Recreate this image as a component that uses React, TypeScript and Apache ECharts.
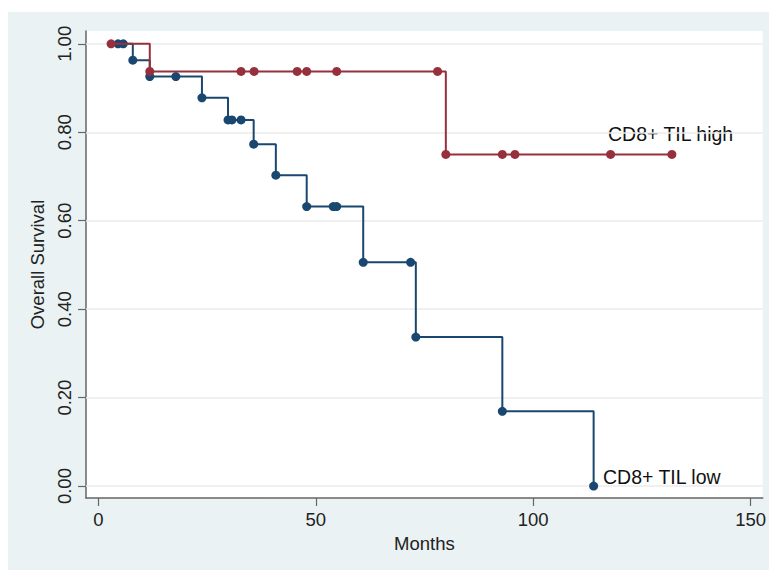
import React, { useEffect, useRef } from "react";
import * as echarts from "echarts";

// Kaplan-Meier step curves: [months, survival]
const lowCurve: [number, number][] = [
  [2.9, 1.0], [7.9, 0.963], [11.8, 0.926], [23.8, 0.878], [29.8, 0.828],
  [35.7, 0.773], [40.8, 0.703], [47.9, 0.632], [60.9, 0.506], [73.0, 0.337],
  [92.9, 0.169], [113.9, 0.0],
];
const highCurve: [number, number][] = [
  [2.9, 1.0], [11.8, 0.9375], [79.9, 0.75], [131.9, 0.75],
];
// observation markers (events and censored) : [months, survival]
const lowMarks: [number, number][] = [
  [4.5, 1.0], [5.7, 1.0], [7.9, 0.963], [11.8, 0.926], [17.8, 0.926],
  [23.8, 0.878], [29.8, 0.828], [30.7, 0.828], [32.8, 0.828], [35.7, 0.773],
  [40.8, 0.703], [47.9, 0.632], [54.0, 0.632], [54.8, 0.632], [60.9, 0.506],
  [71.8, 0.506], [73.0, 0.337], [92.9, 0.169], [113.9, 0.0],
];
const highMarks: [number, number][] = [
  [2.9, 1.0], [11.8, 0.9375], [32.8, 0.9375], [35.8, 0.9375], [45.7, 0.9375],
  [47.9, 0.9375], [54.8, 0.9375], [78.0, 0.9375], [79.9, 0.75], [92.9, 0.75],
  [95.8, 0.75], [117.8, 0.75], [131.9, 0.75],
];
const xTicks = [0, 50, 100, 150];
const yTicks = [0, 0.2, 0.4, 0.6, 0.8, 1.0];
const seriesNames = ["CD8+ TIL low", "CD8+ TIL high"];

const BLUE = "#1a476f";
const RED = "#95303c";
const FONT = "'Liberation Sans', Arial, sans-serif";

export default function App() {
  const ref = useRef<HTMLDivElement>(null);
  useEffect(() => {
    if (!ref.current) return;
    const chart = echarts.init(ref.current, undefined, { renderer: "svg" });
    chart.setOption({
      animation: false,
      backgroundColor: "#eaf2f3",
      textStyle: { fontFamily: FONT },
      grid: {
        left: 78, top: 19, right: 6, bottom: 72,
        show: true, backgroundColor: "#ffffff", borderWidth: 0,
      },
      xAxis: {
        type: "value",
        min: -2.87, max: 152.8,
        name: "Months",
        nameLocation: "middle",
        nameGap: 32,
        nameTextStyle: { fontSize: 18.5, color: "#222", fontFamily: FONT },
        axisLine: { show: true, onZero: false, lineStyle: { color: "#666", width: 1.5 } },
        axisTick: { show: true, length: 8, customValues: xTicks, lineStyle: { color: "#666", width: 1.2 } },
        axisLabel: { customValues: xTicks, margin: 12, fontSize: 18.5, color: "#222", fontFamily: FONT },
        splitLine: { show: false },
      },
      yAxis: {
        type: "value",
        min: -0.027, max: 1.029,
        name: "Overall Survival",
        nameLocation: "middle",
        nameGap: 34,
        nameTextStyle: { fontSize: 18.5, color: "#222", fontFamily: FONT },
        axisLine: { show: true, onZero: false, lineStyle: { color: "#666", width: 1.5 } },
        axisTick: { show: true, length: 8, customValues: yTicks, lineStyle: { color: "#666", width: 1.2 } },
        axisLabel: {
          customValues: yTicks, rotate: 90, margin: 12, fontSize: 18.5, color: "#222", fontFamily: FONT,
          formatter: (v: number) => v.toFixed(2),
        },
        splitLine: { show: false },
      },
      series: [
        {
          type: "line", name: seriesNames[0], data: lowCurve, step: "end",
          showSymbol: false, lineStyle: { color: BLUE, width: 2 }, itemStyle: { color: BLUE }, z: 2,
          markLine: {
            silent: true, symbol: "none", label: { show: false },
            lineStyle: { color: "#ebebeb", width: 1.5, type: "solid" },
            data: yTicks.map((v) => ({ yAxis: v })),
            z: 1,
          },
        },
        {
          type: "scatter", name: seriesNames[0] + " obs", data: lowMarks,
          symbolSize: 9, itemStyle: { color: BLUE, opacity: 1 }, z: 3,
        },
        {
          type: "line", name: seriesNames[1], data: highCurve, step: "end",
          showSymbol: false, lineStyle: { color: RED, width: 2 }, itemStyle: { color: RED }, z: 4,
        },
        {
          type: "scatter", name: seriesNames[1] + " obs", data: highMarks,
          symbolSize: 9, itemStyle: { color: RED, opacity: 1 }, z: 5,
        },
      ],
      graphic: [
        {
          type: "text", left: 600, top: 112,
          style: { text: seriesNames[1], fontSize: 19.5, fill: "#111", fontFamily: FONT },
        },
        {
          type: "text", left: 595, top: 455,
          style: { text: seriesNames[0], fontSize: 19.5, fill: "#111", fontFamily: FONT },
        },
      ],
    });
    return () => chart.dispose();
  }, []);
  return (
    <div style={{ position: "fixed", left: 8, top: 12 }}>
      <div ref={ref} style={{ width: 761, height: 558 }} />
    </div>
  );
}
